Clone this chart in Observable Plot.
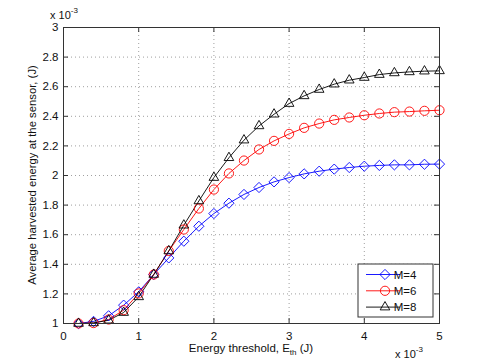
<!DOCTYPE html>
<html><head><meta charset="utf-8">
<script src="https://cdn.jsdelivr.net/npm/d3@7"></script>
<script src="https://cdn.jsdelivr.net/npm/@observablehq/plot@0.6"></script>
<style>
body{margin:0;background:#fff}
svg{font-family:"Liberation Sans",Arial,sans-serif}
</style>
</head><body><div id="chart"></div>
<script>
const threshold = [0.2,0.4,0.6,0.8,1.0,1.2,1.4,1.6,1.8,2.0,2.2,2.4,2.6,2.8,3.0,3.2,3.4,3.6,3.8,4.0,4.2,4.4,4.6,4.8,5.0];
const m4 = [1.0,1.014,1.052,1.124,1.214,1.331,1.443,1.556,1.657,1.743,1.813,1.872,1.919,1.957,1.986,2.011,2.029,2.043,2.054,2.063,2.068,2.072,2.072,2.076,2.077];
const m6 = [1.0,1.003,1.027,1.09,1.203,1.331,1.49,1.635,1.777,1.905,2.014,2.101,2.176,2.234,2.281,2.322,2.351,2.376,2.392,2.407,2.419,2.428,2.432,2.437,2.441];
const m8 = [1.0,1.004,1.022,1.074,1.18,1.331,1.49,1.664,1.828,1.986,2.12,2.239,2.335,2.414,2.486,2.538,2.581,2.617,2.644,2.662,2.682,2.693,2.700,2.705,2.707];
const seriesNames = ["M=4","M=6","M=8"];
const seriesColors = ["#0000ff","#ff0000","#000000"];
const seriesSymbols = ["diamond2","circle","triangle2"];
const xTicks = [0,1,2,3,4,5];
const yTicks = [1,1.2,1.4,1.6,1.8,2,2.2,2.4,2.6,2.8,3];

const rows = [];
[m4,m6,m8].forEach((vals,i)=>vals.forEach((v,j)=>rows.push({x:threshold[j],y:v,s:seriesNames[i]})));

const W=485,H=364,ml=63,mr=46,mt=27,mb=41;
const pw=W-ml-mr, ph=H-mt-mb;
const axisColor="#333";

const chart = Plot.plot({
  width:W, height:H,
  marginLeft:ml, marginRight:mr, marginTop:mt, marginBottom:mb,
  style:{fontFamily:'"Liberation Sans",Arial,sans-serif',fontSize:"11px",background:"#fff",color:"#111"},
  x:{domain:[0,5]},
  y:{domain:[1,3]},
  color:{domain:seriesNames,range:seriesColors},
  symbol:{domain:seriesNames,range:seriesSymbols},
  marks:[
    Plot.gridX(xTicks.slice(1,-1),{stroke:"#888",strokeOpacity:1,strokeDasharray:"1,3",strokeWidth:0.8}),
    Plot.gridY(yTicks.slice(1,-1),{stroke:"#888",strokeOpacity:1,strokeDasharray:"1,3",strokeWidth:0.8}),
    Plot.ruleX(xTicks,{x:d=>d,insetTop:ph-5,stroke:axisColor}),
    Plot.ruleX(xTicks,{x:d=>d,insetBottom:ph-5,stroke:axisColor}),
    Plot.ruleY(yTicks,{y:d=>d,insetRight:pw-5,stroke:axisColor}),
    Plot.ruleY(yTicks,{y:d=>d,insetLeft:pw-5,stroke:axisColor}),
    Plot.line(rows,{x:"x",y:"y",z:"s",stroke:"s",strokeWidth:0.9}),
    Plot.dot(rows,{x:"x",y:"y",stroke:"s",symbol:"s",r:4.6,fill:"none",strokeWidth:0.9}),
    Plot.frame({stroke:axisColor}),
    Plot.axisX(xTicks,{tickSize:0,tickPadding:8,label:null,fontSize:11.5,tickFormat:d=>String(d)}),
    Plot.axisY(yTicks,{tickSize:0,tickPadding:5,label:null,fontSize:11.5,tickFormat:d=>String(d)})
  ]
});
document.getElementById("chart").appendChild(chart);

const svg = d3.select(chart);
const ff = '"Liberation Sans",Arial,sans-serif';
function exponent(x,y){
  const t = svg.append("text").attr("x",x).attr("y",y).attr("font-size",11).attr("font-family",ff).attr("fill","#111");
  t.append("tspan").text("x 10");
  t.append("tspan").attr("dy",-6).attr("font-size",8).text("-3");
}
exponent(64,19);
exponent(409,358);

const xl = svg.append("text").attr("x",ml+pw/2).attr("y",352).attr("text-anchor","middle")
  .attr("font-size",11.5).attr("font-family",ff).attr("fill","#111");
xl.append("tspan").text("Energy threshold, E");
xl.append("tspan").attr("dy",3).attr("font-size",8).text("th");
xl.append("tspan").attr("dy",-3).text(" (J)");

svg.append("text").attr("transform",`translate(36,${mt+ph/2}) rotate(-90)`).attr("text-anchor","middle")
  .attr("font-size",11.3).attr("font-family",ff).attr("fill","#111")
  .text("Average harvested energy at the sensor, (J)");

// legend
const lg = svg.append("g");
lg.append("rect").attr("x",358).attr("y",264).attr("width",75).attr("height",53)
  .attr("fill","#fff").attr("stroke",axisColor);
const symMap = {diamond2:d3.symbolDiamond2,circle:d3.symbolCircle,triangle2:d3.symbolTriangle2};
seriesNames.forEach((n,i)=>{
  const yy = 274.5+i*16.3;
  lg.append("line").attr("x1",366).attr("x2",400).attr("y1",yy).attr("y2",yy).attr("stroke",seriesColors[i]).attr("stroke-width",0.9);
  lg.append("path").attr("transform",`translate(385,${yy})`).attr("d",d3.symbol(symMap[seriesSymbols[i]],Math.PI*4.6*4.6)())
    .attr("fill","none").attr("stroke",seriesColors[i]).attr("stroke-width",0.9);
  lg.append("text").attr("x",405).attr("y",yy+4).attr("font-size",11.5).attr("font-family",ff).attr("fill","#111").text(n);
});
</script>
</body></html>
